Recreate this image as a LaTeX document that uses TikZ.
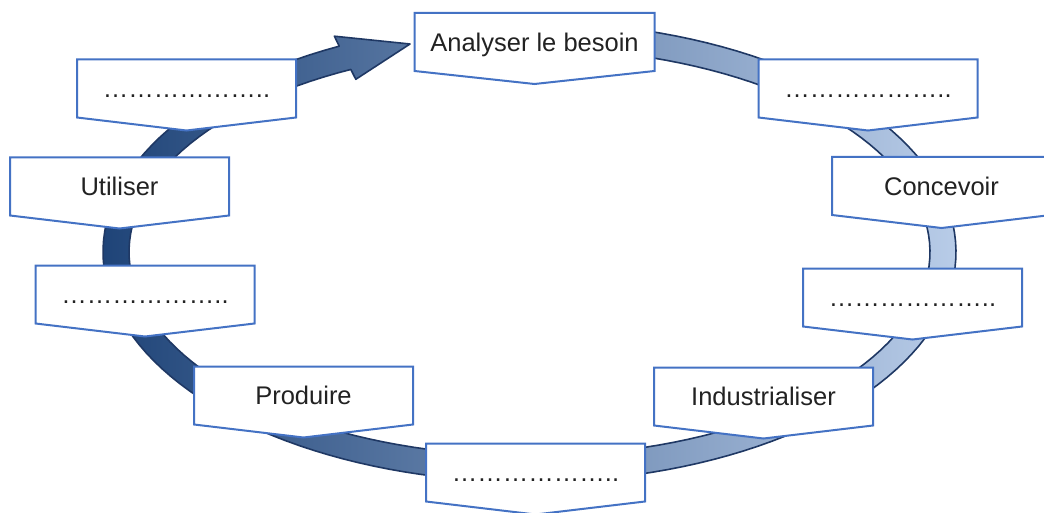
\documentclass[tikz,border=0pt]{standalone}
\usepackage{fontspec}
\setmainfont{Liberation Sans}
\usetikzlibrary{calc}
\definecolor{bandDark}{HTML}{1F4478}
\definecolor{bandLight}{HTML}{B8CCE8}
\definecolor{bandLine}{HTML}{1F3864}
\definecolor{boxLine}{HTML}{4472C4}
\definecolor{txt}{HTML}{222222}
\tikzset{
  etape/.style={minimum height=58pt, inner sep=0pt, outer sep=0pt,
    text height=18.3pt, text depth=0pt, font=\fontsize{25.5}{30}\selectfont, text=txt},
  cadre/.style={draw=boxLine, line width=2pt, fill=white},
  bande/.style={left color=bandDark, right color=bandLight, draw=bandLine, line width=1.6pt, line join=round},
}
\begin{document}
\begin{tikzpicture}[x=1pt,y=-1pt]
  \useasboundingbox (0,0) rectangle (1044,513);
  %FLECHE
  \coordinate (ub) at (334.4,36.2);
  \coordinate (tip) at (410,44);
  \coordinate (lb) at (355.8,79.3);
  \shadedraw[bande] plot[domain=-243.5:90,samples=150] ({529.5+400.5*cos(\x)},{252-204*sin(\x)})
    -- plot[domain=0:333.5,samples=150] ({529.5+426.5*cos(90-\x)},{252-230*sin(90-\x)})
    -- (ub) -- (tip) -- (lb) -- cycle;

  %ETAPES (nom/x/y/demi-largeur/texte)
  \foreach \nom/\px/\py/\dl/\txt in {
      besoin/534.5/42/120/Analyser le besoin,
      pointsA/868/88.5/109.5/………………..,
      concevoir/941.5/186/109.5/Concevoir,
      pointsB/912.5/297.5/109.5/………………..,
      industrialiser/763.5/396.5/109.5/Industrialiser,
      pointsC/535.5/472.5/109.5/………………..,
      produire/303.5/395.5/109.5/Produire,
      pointsD/145/294.5/109.5/………………..,
      utiliser/119.5/186.5/109.5/Utiliser,
      pointsE/186.5/88.5/109.5/………………..}{
    \filldraw[cadre] ({\px-\dl},{\py-29}) -- ++({2*\dl},0) -- ++(0,58) -- ++({-\dl},13) -- ++({-\dl},-13) -- cycle;
    \node[etape, minimum width=2*\dl] (\nom) at (\px,\py) {\txt};
  }
\end{tikzpicture}
\end{document}
